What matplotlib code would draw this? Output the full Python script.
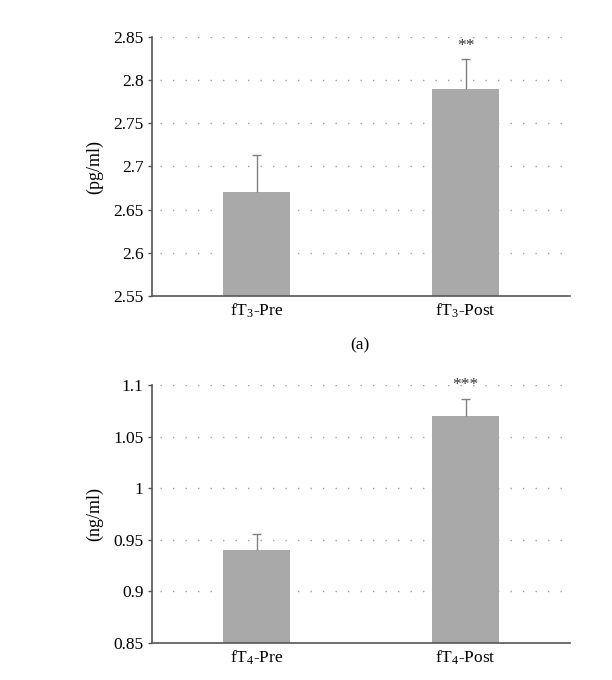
import matplotlib
matplotlib.use('Agg')
import matplotlib.pyplot as plt
from matplotlib.ticker import FixedLocator

####################
# Data
cats_a   = ['fT$_3$-Pre', 'fT$_3$-Post']
means_a  = [2.67, 2.79]
errs_a   = [0.043, 0.034]
stars_a  = ['', '**']
ticks_a  = [2.55, 2.6, 2.65, 2.7, 2.75, 2.8, 2.85]
tlabs_a  = ['2.55', '2.6', '2.65', '2.7', '2.75', '2.8', '2.85']

cats_b   = ['fT$_4$-Pre', 'fT$_4$-Post']
means_b  = [0.94, 1.07]
errs_b   = [0.016, 0.016]
stars_b  = ['', '***']
ticks_b  = [0.85, 0.9, 0.95, 1.0, 1.05, 1.1]
tlabs_b  = ['0.85', '0.9', '0.95', '1', '1.05', '1.1']

####################
# Style
plt.rcParams['font.family'] = ['Liberation Serif', 'DejaVu Serif']
plt.rcParams['mathtext.fontset'] = 'custom'
plt.rcParams['mathtext.rm'] = 'Liberation Serif'
plt.rcParams['mathtext.it'] = 'Liberation Serif:italic'

bar_col  = '#a9a9a9'
line_col = '#555555'
grid_col = '#a0a0a0'
err_col  = '#808080'

fig = plt.figure(figsize=(6.12, 6.8), dpi=100)
ax1 = fig.add_axes([152/612, 1-296/680, 418/612, 259/680])
ax2 = fig.add_axes([152/612, 1-643/680, 418/612, 258/680])


def draw(ax, cats, means, errs, stars, ticks, tlabs, ylab):
    x = list(range(len(cats)))
    ax.bar(x, means, width=0.316, color=bar_col, zorder=2)
    # upper half error bars only
    tops = [m + e for m, e in zip(means, errs)]
    ax.vlines(x, means, tops, color=err_col, linewidth=1.0, zorder=3)
    ax.hlines(tops, [xi - 0.02 for xi in x], [xi + 0.02 for xi in x],
              color=err_col, linewidth=1.0, zorder=3)
    for xi, t, s in zip(x, tops, stars):
        if s:
            ax.text(xi, t + (ticks[1]-ticks[0])*0.12, s, ha='center', va='bottom',
                    fontsize=12.5, color='#333333')
    ax.set_xlim(-0.5, 1.5)
    ax.set_ylim(ticks[0], ticks[-1])
    ax.yaxis.set_major_locator(FixedLocator(ticks))
    ax.set_yticklabels(tlabs)
    ax.set_xticks(x)
    ax.set_xticklabels(cats)
    ax.tick_params(axis='x', length=0, labelsize=12.5, pad=4)
    ax.tick_params(axis='y', length=3, width=1, color=line_col, labelsize=12.5, pad=3)
    for t in ticks[1:]:
        ax.axhline(t, xmin=0.02, color=grid_col, linestyle=(0, (1, 8)),
                   linewidth=1.0, zorder=1)
    for sp in ['top', 'right']:
        ax.spines[sp].set_visible(False)
    for sp in ['left', 'bottom']:
        ax.spines[sp].set_color(line_col)
        ax.spines[sp].set_linewidth(1.2)
    ax.set_ylabel(ylab, fontsize=13, labelpad=7)


draw(ax1, cats_a, means_a, errs_a, stars_a, ticks_a, tlabs_a, '(pg/ml)')
draw(ax2, cats_b, means_b, errs_b, stars_b, ticks_b, tlabs_b, '(ng/ml)')

fig.text(360/612, 1-345/680, '(a)', ha='center', va='center', fontsize=12.5)

fig.savefig('out.png', dpi=100)
